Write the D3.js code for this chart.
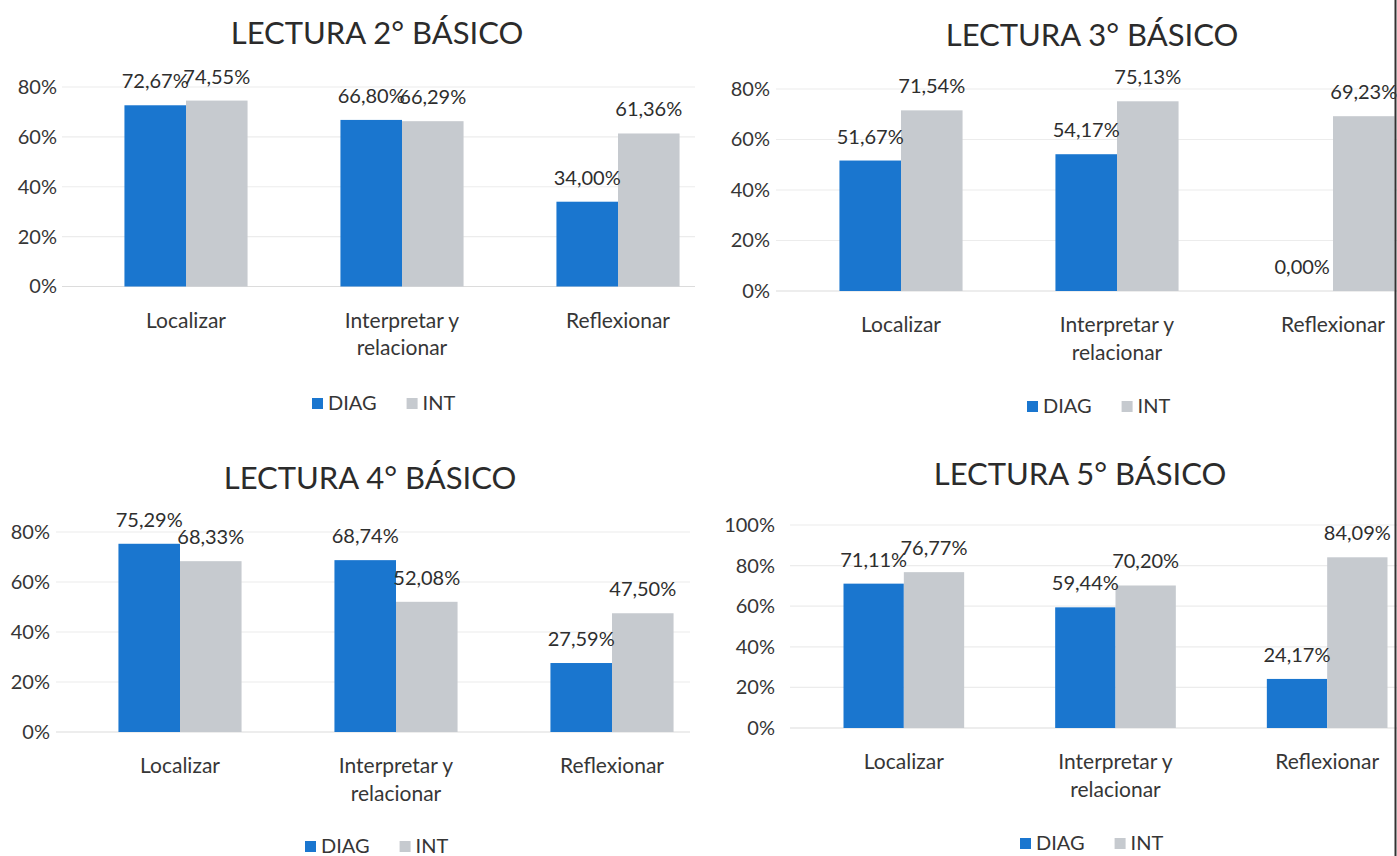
<!DOCTYPE html>
<html>
<head>
<meta charset="utf-8">
<script src="https://cdn.jsdelivr.net/npm/d3@7"></script>
<style>
  body { margin: 0; background: #fff; }
  svg { display: block; font-family: Lato, "Open Sans", sans-serif; }
</style>
</head>
<body>
<script>
// data (percent)
var categories = ["Localizar", "Interpretar y relacionar", "Reflexionar"];
var categoryLines = [["Localizar"], ["Interpretar y", "relacionar"], ["Reflexionar"]];
var seriesNames = ["DIAG", "INT"];

var diag2 = [72.67, 66.80, 34.00], int2 = [74.55, 66.29, 61.36];
var diag3 = [51.67, 54.17, 0.00],  int3 = [71.54, 75.13, 69.23];
var diag4 = [75.29, 68.74, 27.59], int4 = [68.33, 52.08, 47.50];
var diag5 = [71.11, 59.44, 24.17], int5 = [76.77, 70.20, 84.09];

var ticks80 = [0, 20, 40, 60, 80];
var ticks100 = [0, 20, 40, 60, 80, 100];

var titles = ["LECTURA 2° BÁSICO", "LECTURA 3° BÁSICO", "LECTURA 4° BÁSICO", "LECTURA 5° BÁSICO"];

var colors = {DIAG: "#1a76cf", INT: "#c6cacf"};
var textColor = "#363636";

var svg = d3.select("body").append("svg")
    .attr("width", 1397)
    .attr("height", 856);

// layout of the four panels
var panels = [
  {title: titles[0], diag: diag2, int: int2, ticks: ticks80, max: 80,
   titleX: 377, titleY: 33, x0: 78, x1: 726, yZero: 286.5, yTop: 87,
   labelRight: 57, gridX0: 62, gridX1: 695, legendX: 312, legendY: 403},
  {title: titles[1], diag: diag3, int: int3, ticks: ticks80, max: 80,
   titleX: 1092, titleY: 35, x0: 793, x1: 1441, yZero: 291, yTop: 89,
   labelRight: 770, gridX0: 776, gridX1: 1397, legendX: 1027, legendY: 406},
  {title: titles[2], diag: diag4, int: int4, ticks: ticks80, max: 80,
   titleX: 370, titleY: 478, x0: 72, x1: 720, yZero: 732, yTop: 532,
   labelRight: 50, gridX0: 56, gridX1: 690, legendX: 305, legendY: 846},
  {title: titles[3], diag: diag5, int: int5, ticks: ticks100, max: 100,
   titleX: 1080, titleY: 474, x0: 798, x1: 1433, yZero: 728, yTop: 525,
   labelRight: 775, gridX0: 790, gridX1: 1397, legendX: 1020, legendY: 843}
];

var fmt = d3.format(".2f");
function pct(v) { return fmt(v).replace(".", ",") + "%"; }

panels.forEach(function(p) {
  var g = svg.append("g");

  var x = d3.scaleBand()
      .domain(categories)
      .range([p.x0, p.x1])
      .paddingInner(0.43)
      .paddingOuter(0.215);
  var xs = d3.scaleBand()
      .domain(seriesNames)
      .range([0, x.bandwidth()]);
  var y = d3.scaleLinear()
      .domain([0, p.max])
      .range([p.yZero, p.yTop]);

  // title
  g.append("text")
      .attr("x", p.titleX)
      .attr("y", p.titleY)
      .attr("dy", "0.35em")
      .attr("text-anchor", "middle")
      .style("font-size", "31px")
      .style("fill", "#2b2b2b")
      .text(p.title);

  // gridlines
  g.selectAll(".grid")
    .data(p.ticks)
    .enter().append("line")
      .attr("x1", p.gridX0)
      .attr("x2", p.gridX1)
      .attr("y1", function(d) { return y(d); })
      .attr("y2", function(d) { return y(d); })
      .attr("stroke", function(d) { return d === 0 ? "#dcdcdc" : "#ececec"; })
      .attr("stroke-width", 1.2);

  // y axis
  var yAxis = g.append("g")
      .attr("transform", "translate(" + p.labelRight + ",0)")
      .call(d3.axisLeft(y).tickValues(p.ticks).tickSize(0).tickPadding(0)
        .tickFormat(function(d) { return d + "%"; }));
  yAxis.select(".domain").remove();
  yAxis.selectAll("text")
      .style("font-family", "Lato, sans-serif")
      .style("font-size", "20px")
      .style("fill", textColor);

  // bars
  var rows = categories.map(function(c, i) {
    return {cat: c, values: [{s: "DIAG", v: p.diag[i]}, {s: "INT", v: p.int[i]}]};
  });

  var groups = g.selectAll(".cat")
    .data(rows)
    .enter().append("g")
      .attr("transform", function(d) { return "translate(" + x(d.cat) + ",0)"; });

  groups.selectAll("rect")
    .data(function(d) { return d.values; })
    .enter().append("rect")
      .attr("x", function(d) { return xs(d.s); })
      .attr("width", xs.bandwidth())
      .attr("y", function(d) { return y(d.v); })
      .attr("height", function(d) { return y(0) - y(d.v); })
      .attr("fill", function(d) { return colors[d.s]; });

  // data labels
  groups.selectAll(".lbl")
    .data(function(d) { return d.values; })
    .enter().append("text")
      .attr("x", function(d) { return xs(d.s) + xs.bandwidth() / 2; })
      .attr("y", function(d) { return y(d.v) - 24; })
      .attr("dy", "0.35em")
      .attr("text-anchor", "middle")
      .style("font-size", "20px")
      .style("fill", "#2e2e2e")
      .text(function(d) { return pct(d.v); });

  // category labels
  categories.forEach(function(c, i) {
    var t = g.append("text")
        .attr("x", x(c) + x.bandwidth() / 2)
        .attr("y", p.yZero + 34)
        .attr("dy", "0.35em")
        .attr("text-anchor", "middle")
        .style("font-size", "21px")
        .style("fill", textColor);
    categoryLines[i].forEach(function(line, j) {
      t.append("tspan")
          .attr("x", x(c) + x.bandwidth() / 2)
          .attr("dy", j === 0 ? "0.35em" : "1.3em")
          .text(line);
    });
  });

  // legend
  var lg = g.append("g")
      .attr("transform", "translate(" + p.legendX + "," + p.legendY + ")");
  var lx = 0;
  seriesNames.forEach(function(s) {
    lg.append("rect")
        .attr("x", lx)
        .attr("y", -5)
        .attr("width", 11)
        .attr("height", 11)
        .attr("fill", colors[s]);
    var lt = lg.append("text")
        .attr("x", lx + 16)
        .attr("y", 0)
        .attr("dy", "0.35em")
        .style("font-size", "20px")
        .style("fill", textColor)
        .text(s);
    lx += 16 + lt.node().getComputedTextLength() + 30;
  });
});

// dark scan edge on the right
svg.append("line")
    .attr("x1", 1395.5).attr("x2", 1395.5)
    .attr("y1", 0).attr("y2", 856)
    .attr("stroke", "#333")
    .attr("stroke-width", 2);
</script>
</body>
</html>
